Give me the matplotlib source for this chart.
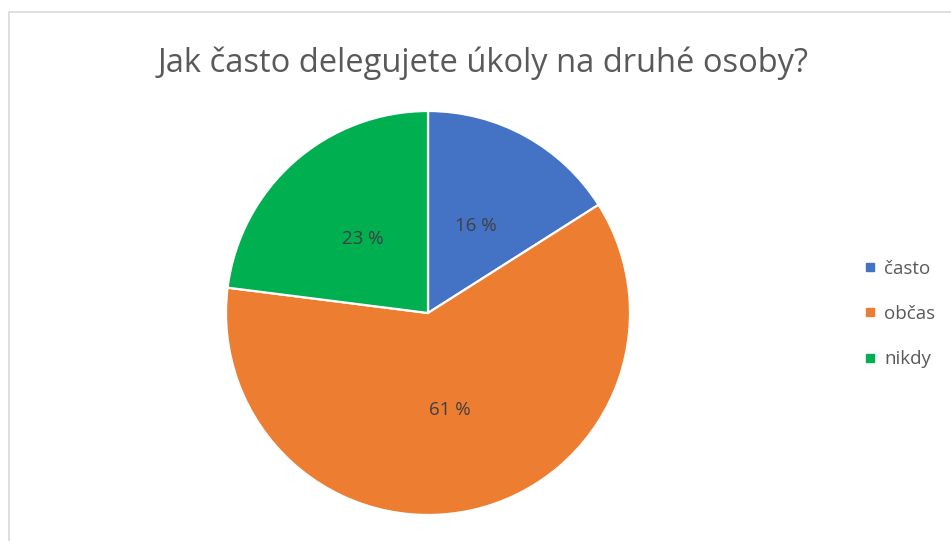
import matplotlib.pyplot as plt
from matplotlib.lines import Line2D
from matplotlib.patches import Rectangle

# Odpovědi na otázku o delegování úkolů (v %)
kategorie = ['často', 'občas', 'nikdy']
podily = [16, 61, 23]
barvy = ['#4472C4', '#ED7D31', '#00B050']
titulek = 'Jak často delegujete úkoly na druhé osoby?'

plt.rcParams['font.family'] = ['Open Sans', 'DejaVu Sans']

W, H = 951, 541
fig = plt.figure(figsize=(W / 100, H / 100), dpi=100)
ax = fig.add_axes([0, 0, 1, 1])
ax.set_xlim(0, W)
ax.set_ylim(0, H)
ax.set_aspect('equal')
ax.axis('off')

# rámeček grafu (vidět jen levá a horní hrana)
ax.add_patch(Rectangle((8.5, -20), W + 40, H - 11.5 + 20, fill=False,
                       edgecolor='#D9D9D9', linewidth=1.2))

wedges, texts, autotexts = ax.pie(
    podily, colors=barvy, startangle=90, counterclock=False,
    center=(428, H - 313), radius=202,
    autopct=lambda p: f'{p:.0f} %', pctdistance=0.49,
    wedgeprops=dict(edgecolor='white', linewidth=1.6),
    textprops=dict(color='#404040', fontsize=13.5))
ax.set_xlim(0, W)
ax.set_ylim(0, H)

ax.text(483, H - 63, titulek, ha='center', va='center',
        fontsize=23.5, color='#595959')

handles = [Line2D([], [], marker='s', linestyle='none', markersize=6,
                  markerfacecolor=c, markeredgecolor=c) for c in barvy]
ax.legend(handles, kategorie, loc='center left',
          bbox_to_anchor=(855 / W, 1 - 314 / H), frameon=False,
          fontsize=13.5, labelcolor='#595959', handlelength=0.6,
          handletextpad=0.45, labelspacing=1.45, borderpad=0)

fig.savefig('out.png', dpi=100)
